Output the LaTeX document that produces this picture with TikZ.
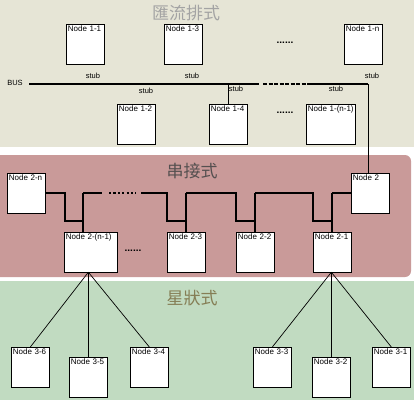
\documentclass[tikz,border=0pt]{standalone}
\usepackage{fontspec}
\setmainfont{Liberation Sans}
\newfontfamily\cjkfont{Noto Sans CJK TC}
\usetikzlibrary{positioning,calc}
\definecolor{BUSbg}{HTML}{E6E5D6}
\definecolor{CHAINbg}{HTML}{C99A99}
\definecolor{STARbg}{HTML}{C1DBC1}
\definecolor{BUStitle}{HTML}{A3A3A3}
\definecolor{CHAINtitle}{HTML}{555050}
\definecolor{STARtitle}{HTML}{857E55}
\tikzset{
  nodebox/.style={draw=black, line width=0.7pt, fill=white, anchor=north west,
    font=\fontsize{8}{8}\selectfont, inner xsep=1.5pt, inner ysep=1.5pt,
    text width=35pt, text height=6pt, text depth=30.5pt, align=left},
  trunk/.style={line width=1.6pt},
  branch/.style={line width=0.7pt},
  gapline/.style={line width=1.6pt, dash pattern=on 2.2pt off 2.2pt},
  tag/.style={font=\fontsize{7.5}{8}\selectfont, inner sep=0pt},
  title/.style={font=\cjkfont\fontsize{17}{17}\selectfont, inner sep=0pt},
  gap/.style={font=\bfseries\fontsize{10}{10}\selectfont, inner sep=0pt},
}
\begin{document}
\begin{tikzpicture}[x=1pt,y=-1pt]
  \useasboundingbox (0,0) rectangle (414,400);
  % bands
  \fill[white] (0,0) rectangle (414,400);
  \fill[BUSbg] (0,0) rectangle (414,147);
  \fill[CHAINbg, rounded corners=6pt] (-10,155) rectangle (411,277);
  \fill[STARbg] (0,281) rectangle (414,400);
  \node[title, text=BUStitle] (tbus) at (186,13) {匯流排式};
  \node[title, text=CHAINtitle] (tchain) at (192,171) {串接式};
  \node[title, text=STARtitle] (tstar) at (192,298) {星狀式};

  % bus
  \node[nodebox] (n11) at (66,24) {Node 1-1};
  \node[nodebox] (n13) at (164,24) {Node 1-3};
  \node[nodebox] (n1n) at (344,24) {Node 1-n};
  \node[nodebox] (n12) at (117,104) {Node 1-2};
  \node[nodebox] (n14) at (209,104) {Node 1-4};
  \node[nodebox, text width=46pt] (n1m) at (306,104) {Node 1-(n-1)};
  \node[gap] (dots1) at (285,43) {......};
  \node[gap] (dots2) at (285,113) {......};
  \node[tag] (bus) at (15,83) {BUS};
  \coordinate (busL) at (29,84);
  \coordinate (busR) at (368,84);
  \coordinate (stub14) at (228,84);
  \draw[trunk] (busL) -- ++(230,0) coordinate (busA);
  \draw[trunk, dash pattern=on 4pt off 1.5pt] ($(busA)+(4,0)$) -- ++(48,0) coordinate (busB);
  \draw[trunk] (busB) -- (busR);
  \draw[branch] (stub14) -- (stub14 |- n14.north);
  \node[tag] (s1) at (93,76) {stub};
  \node[tag] (s2) at (192,76) {stub};
  \node[tag] (s3) at (372,76) {stub};
  \node[tag] (s4) at (146,91) {stub};
  \node[tag] (s5) at (236,89) {stub};
  \node[tag] (s6) at (336,89) {stub};

  % chain
  \node[nodebox] (n2n) at (7,173) {Node 2-n};
  \node[nodebox, text width=50pt] (n2m) at (64,232) {Node 2-(n-1)};
  \node[nodebox] (n23) at (167,232) {Node 2-3};
  \node[nodebox] (n22) at (236,232) {Node 2-2};
  \node[nodebox] (n21) at (313,232) {Node 2-1};
  \node[nodebox] (n2) at (351,173) {Node 2};
  \node[gap] (dots3) at (133,251) {......};
  \draw[branch] (busR) -- (busR |- n2.north);
  \coordinate (j1) at (83,193);
  \coordinate (j2) at (186,193);
  \coordinate (j3) at (255,193);
  \coordinate (j4) at (332,193);
  \draw[trunk] (j1) -- (j1 |- n2m.north);
  \draw[trunk] (j2) -- (j2 |- n23.north);
  \draw[trunk] (j3) -- (j3 |- n22.north);
  \draw[trunk] (j4) -- (j4 |- n21.north);
  \draw[trunk] (n2n.east |- j1) -- ++(19,0) -- ++(0,28) -| (j1);
  \draw[trunk] (j1) -- ++(19,0) coordinate (g1);
  \draw[gapline] ($(g1)+(7,0)$) -- ++(27,0);
  \draw[trunk] ($(g1)+(39,0)$) -- ++(26,0) -- ++(0,28) -| (j2);
  \draw[trunk] (j2) -- ++(50,0) -- ++(0,28) -| (j3);
  \draw[trunk] (j3) -- ++(58,0) -- ++(0,28) -| (j4);
  \draw[trunk] (j4) -- (j4 -| n2.west);

  % star
  \node[nodebox] (n36) at (11,347) {Node 3-6};
  \node[nodebox] (n35) at (69,357) {Node 3-5};
  \node[nodebox] (n34) at (130,347) {Node 3-4};
  \node[nodebox] (n33) at (253,347) {Node 3-3};
  \node[nodebox] (n32) at (312,357) {Node 3-2};
  \node[nodebox] (n31) at (372,347) {Node 3-1};
  \coordinate (hub1) at (n35.north |- n2m.south);
  \coordinate (hub2) at (n32.north |- n21.south);
  \draw[branch] (hub1) -- (n36.north);
  \draw[branch] (hub1) -- (n35.north);
  \draw[branch] (hub1) -- (n34.north);
  \draw[branch] (hub2) -- (n33.north);
  \draw[trunk] (hub2) -- (n32.north);
  \draw[branch] (hub2) -- (n31.north);
\end{tikzpicture}
\end{document}
